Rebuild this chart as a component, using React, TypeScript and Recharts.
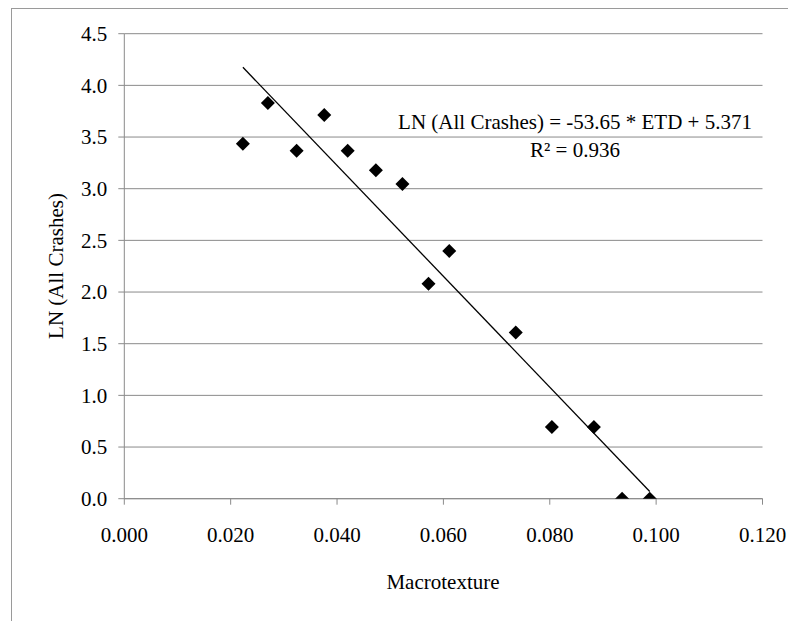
import { ScatterChart, Scatter, XAxis, YAxis, CartesianGrid, ReferenceLine } from 'recharts';

// Macrotexture (ETD) vs. LN of all crashes
const etd = [0.0223, 0.027, 0.0324, 0.0376, 0.042, 0.0473, 0.0523, 0.0572, 0.0611, 0.0736, 0.0804, 0.0883, 0.0936, 0.0988];
const lnCrashes = [3.434, 3.829, 3.367, 3.714, 3.367, 3.178, 3.045, 2.079, 2.398, 1.609, 0.693, 0.693, 0, 0];

const xTicks = [0, 0.02, 0.04, 0.06, 0.08, 0.1, 0.12];
const yTicks = [0, 0.5, 1, 1.5, 2, 2.5, 3, 3.5, 4, 4.5];

// fitted line: LN = slope * ETD + intercept
const slope = -53.65;
const intercept = 5.371;
const rSquared = 0.936;

const points = etd.map((x, i) => ({ x, y: lnCrashes[i] }));
const xMin = Math.min(...etd);
const xMax = Math.max(...etd);

const FONT = 'Liberation Serif, Tinos, Times New Roman, DejaVu Serif, serif';
const GRID = '#8a8a8a';

const Diamond = (props: any) => {
  const { cx, cy } = props;
  const r = 7;
  return (
    <polygon
      points={`${cx},${cy - r} ${cx + r},${cy} ${cx},${cy + r} ${cx - r},${cy}`}
      fill="#000"
    />
  );
};

export default function App() {
  return (
    <div style={{ position: 'absolute', left: 0, top: 0, width: 788, height: 621, background: '#fff', fontFamily: FONT }}>
      {/* chart frame (open on right and bottom) */}
      <div
        style={{
          position: 'absolute',
          left: 11,
          top: 8,
          right: 0,
          bottom: 0,
          borderLeft: '1px solid #9a9a9a',
          borderTop: '1px solid #9a9a9a',
        }}
      />
      <ScatterChart
        width={788}
        height={621}
        margin={{ top: 33.7, right: 25.5, left: 64.3, bottom: 72.3 }}
        style={{ position: 'absolute', left: 0, top: 0, fontFamily: FONT }}
      >
        <CartesianGrid vertical={false} stroke={GRID} strokeWidth={1} />
        <XAxis
          type="number"
          dataKey="x"
          domain={[0, 0.12]}
          ticks={xTicks}
          tickFormatter={(v: number) => v.toFixed(3)}
          height={50}
          tickSize={6}
          tickMargin={22}
          stroke={GRID}
          tick={{ fill: '#000', fontSize: 21, fontFamily: FONT }}
          interval={0}
          allowDataOverflow
        />
        <YAxis
          type="number"
          dataKey="y"
          domain={[0, 4.5]}
          ticks={yTicks}
          tickFormatter={(v: number) => v.toFixed(1)}
          width={60}
          tickSize={6}
          tickMargin={11}
          stroke={GRID}
          tick={{ fill: '#000', fontSize: 21, fontFamily: FONT }}
          interval={0}
          allowDataOverflow
        />
        <ReferenceLine
          segment={[
            { x: xMin, y: slope * xMin + intercept },
            { x: xMax, y: slope * xMax + intercept },
          ]}
          stroke="#000"
          strokeWidth={1.3}
          ifOverflow="visible"
        />
        <Scatter data={points} shape={Diamond} isAnimationActive={false} />
      </ScatterChart>

      {/* axis titles */}
      <div
        style={{
          position: 'absolute',
          left: 56,
          top: 266,
          transform: 'translate(-50%, -50%) rotate(-90deg)',
          fontSize: 21,
          whiteSpace: 'nowrap',
        }}
      >
        LN (All Crashes)
      </div>
      <div
        style={{
          position: 'absolute',
          left: 443,
          top: 582,
          transform: 'translate(-50%, -50%)',
          fontSize: 21,
          whiteSpace: 'nowrap',
        }}
      >
        Macrotexture
      </div>

      {/* regression equation */}
      <div
        style={{
          position: 'absolute',
          left: 575,
          top: 136,
          transform: 'translate(-50%, -50%)',
          fontSize: 21,
          lineHeight: '28px',
          textAlign: 'center',
          whiteSpace: 'nowrap',
        }}
      >
        <div>LN (All Crashes) = {slope} * ETD + {intercept}</div>
        <div>R² = {rSquared}</div>
      </div>
    </div>
  );
}
